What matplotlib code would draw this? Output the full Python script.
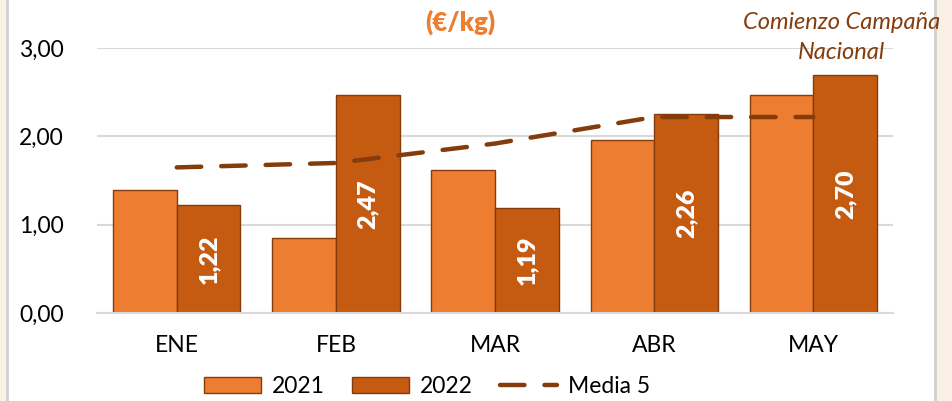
import numpy as np
import matplotlib.pyplot as plt
from matplotlib.patches import Rectangle

months = ['ENE', 'FEB', 'MAR', 'ABR', 'MAY']
v2021 = [1.39, 0.85, 1.62, 1.96, 2.47]
v2022 = [1.22, 2.47, 1.19, 2.26, 2.70]
media5 = [1.65, 1.70, 1.92, 2.22, 2.22]
labels2022 = ['1,22', '2,47', '1,19', '2,26', '2,70']
yticks = [0, 1, 2, 3]
ytick_labels = ['0,00', '1,00', '2,00', '3,00']

C2021 = '#ED7D31'
C2022 = '#C55A11'
EDGE = '#843C0C'

plt.rcParams['font.family'] = ['Lato', 'DejaVu Sans']

fig = plt.figure(figsize=(9.53, 4.01), dpi=100)
# beige side strips of the slide
fig.patches.append(Rectangle((0.981, 0), 0.019, 1, transform=fig.transFigure,
                             facecolor='#FBF0E6', edgecolor='none', zorder=0))
fig.patches.append(Rectangle((0, 0), 0.006, 1, transform=fig.transFigure,
                             facecolor='#FBF0E6', edgecolor='none', zorder=0))
fig.lines.append(plt.Line2D([0.981, 0.981], [0, 1], transform=fig.transFigure,
                            color='#D0D0D0', lw=2))
fig.lines.append(plt.Line2D([0.007, 0.007], [0, 1], transform=fig.transFigure,
                            color='#D0D0D0', lw=2))

ax = fig.add_axes([0.102, 0.219, 0.835, 0.661])
x = np.arange(len(months))
w = 0.4
b1 = ax.bar(x - w / 2, v2021, w, color=C2021, edgecolor=EDGE, linewidth=1, label='2021', zorder=2)
b2 = ax.bar(x + w / 2, v2022, w, color=C2022, edgecolor=EDGE, linewidth=1, label='2022', zorder=2)
ln, = ax.plot(x, media5, color=EDGE, lw=3.2, linestyle=(0, (5.5, 4.5)),
              dash_capstyle='round', label='Media 5', zorder=3)

for xi, v, lab in zip(x, v2022, labels2022):
    ax.text(xi + w / 2, v / 2, lab, rotation=90, ha='center', va='center',
            color='white', fontsize=18, fontweight='heavy', zorder=4)

ax.set_xlim(-0.5, 4.5)
ax.set_ylim(0, 3)
ax.set_yticks(yticks)
ax.set_yticklabels(ytick_labels)
ax.set_xticks(x)
ax.set_xticklabels(months)
ax.tick_params(axis='both', length=0, labelsize=16.5, colors='black')
ax.tick_params(axis='x', pad=16)
ax.tick_params(axis='y', pad=24)
ax.grid(axis='y', color='#D9D9D9', lw=1.5, zorder=0)
for s in ['top', 'right', 'left']:
    ax.spines[s].set_visible(False)
ax.spines['bottom'].set_color('#D9D9D9')
ax.spines['bottom'].set_linewidth(1.5)

fig.text(0.483, 0.945, '(€/kg)', ha='center', va='center', color=C2021,
         fontsize=18.5, fontweight='heavy')
fig.text(0.883, 0.943, 'Comienzo Campaña', ha='center', va='center',
         color=EDGE, fontsize=17, style='italic')
fig.text(0.883, 0.868, 'Nacional', ha='center', va='center',
         color=EDGE, fontsize=17, style='italic')

fig.legend(handles=[b1, b2, ln], loc='center', bbox_to_anchor=(0.448, 0.037),
           ncol=3, frameon=False, fontsize=16.5, handlelength=2.5,
           handleheight=0.7, columnspacing=1.2, handletextpad=0.45)

fig.savefig('out.png', dpi=100)
